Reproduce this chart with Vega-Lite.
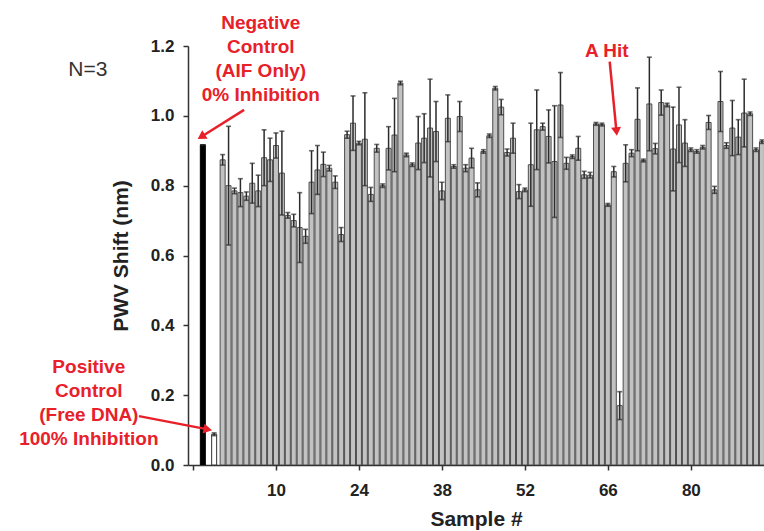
{
  "$schema": "https://vega.github.io/schema/vega-lite/v6.json",
  "autosize": {"type": "none"},
  "padding": {"left": 188, "top": 46, "right": 0, "bottom": 66},
  "width": 576,
  "height": 419,
  "background": "white",
  "config": {"view": {"stroke": null}, "font": "Liberation Sans"},
  "datasets": {
    "bars": [
      {"sample": -2.34, "value": 0.917, "err": 0, "kind": "negative"},
      {"sample": -0.43, "value": 0.088, "err": 0.004, "kind": "positive"},
      {"sample": 1, "value": 0.874, "err": 0.015, "kind": "sample"},
      {"sample": 2, "value": 0.8, "err": 0.17, "kind": "sample"},
      {"sample": 3, "value": 0.785, "err": 0.008, "kind": "sample"},
      {"sample": 4, "value": 0.78, "err": 0.04, "kind": "sample"},
      {"sample": 5, "value": 0.77, "err": 0.012, "kind": "sample"},
      {"sample": 6, "value": 0.807, "err": 0.057, "kind": "sample"},
      {"sample": 7, "value": 0.785, "err": 0.045, "kind": "sample"},
      {"sample": 8, "value": 0.88, "err": 0.08, "kind": "sample"},
      {"sample": 9, "value": 0.874, "err": 0.062, "kind": "sample"},
      {"sample": 10, "value": 0.915, "err": 0.036, "kind": "sample"},
      {"sample": 11, "value": 0.836, "err": 0.12, "kind": "sample"},
      {"sample": 12, "value": 0.715, "err": 0.008, "kind": "sample"},
      {"sample": 13, "value": 0.7, "err": 0.018, "kind": "sample"},
      {"sample": 14, "value": 0.68, "err": 0.1, "kind": "sample"},
      {"sample": 15, "value": 0.655, "err": 0.02, "kind": "sample"},
      {"sample": 16, "value": 0.81, "err": 0.09, "kind": "sample"},
      {"sample": 17, "value": 0.845, "err": 0.07, "kind": "sample"},
      {"sample": 18, "value": 0.861, "err": 0.035, "kind": "sample"},
      {"sample": 19, "value": 0.85, "err": 0.008, "kind": "sample"},
      {"sample": 20, "value": 0.81, "err": 0.018, "kind": "sample"},
      {"sample": 21, "value": 0.66, "err": 0.02, "kind": "sample"},
      {"sample": 22, "value": 0.946, "err": 0.01, "kind": "sample"},
      {"sample": 23, "value": 0.979, "err": 0.078, "kind": "sample"},
      {"sample": 24, "value": 0.922, "err": 0.005, "kind": "sample"},
      {"sample": 25, "value": 0.933, "err": 0.133, "kind": "sample"},
      {"sample": 26, "value": 0.775, "err": 0.02, "kind": "sample"},
      {"sample": 27, "value": 0.907, "err": 0.011, "kind": "sample"},
      {"sample": 28, "value": 0.8, "err": 0.005, "kind": "sample"},
      {"sample": 29, "value": 0.907, "err": 0.062, "kind": "sample"},
      {"sample": 30, "value": 0.945, "err": 0.105, "kind": "sample"},
      {"sample": 31, "value": 1.094, "err": 0.005, "kind": "sample"},
      {"sample": 32, "value": 0.888, "err": 0.005, "kind": "sample"},
      {"sample": 33, "value": 0.86, "err": 0.005, "kind": "sample"},
      {"sample": 34, "value": 0.922, "err": 0.076, "kind": "sample"},
      {"sample": 35, "value": 0.936, "err": 0.07, "kind": "sample"},
      {"sample": 36, "value": 0.965, "err": 0.14, "kind": "sample"},
      {"sample": 37, "value": 0.955, "err": 0.086, "kind": "sample"},
      {"sample": 38, "value": 0.785, "err": 0.025, "kind": "sample"},
      {"sample": 39, "value": 0.993, "err": 0.067, "kind": "sample"},
      {"sample": 40, "value": 0.855, "err": 0.005, "kind": "sample"},
      {"sample": 41, "value": 0.998, "err": 0.043, "kind": "sample"},
      {"sample": 42, "value": 0.85, "err": 0.01, "kind": "sample"},
      {"sample": 43, "value": 0.879, "err": 0.028, "kind": "sample"},
      {"sample": 44, "value": 0.788, "err": 0.02, "kind": "sample"},
      {"sample": 45, "value": 0.898, "err": 0.005, "kind": "sample"},
      {"sample": 46, "value": 0.943, "err": 0.005, "kind": "sample"},
      {"sample": 47, "value": 1.079, "err": 0.005, "kind": "sample"},
      {"sample": 48, "value": 1.025, "err": 0.022, "kind": "sample"},
      {"sample": 49, "value": 0.895, "err": 0.01, "kind": "sample"},
      {"sample": 50, "value": 0.936, "err": 0.043, "kind": "sample"},
      {"sample": 51, "value": 0.783, "err": 0.02, "kind": "sample"},
      {"sample": 52, "value": 0.788, "err": 0.005, "kind": "sample"},
      {"sample": 53, "value": 0.86, "err": 0.119, "kind": "sample"},
      {"sample": 54, "value": 0.96, "err": 0.114, "kind": "sample"},
      {"sample": 55, "value": 0.969, "err": 0.01, "kind": "sample"},
      {"sample": 56, "value": 0.941, "err": 0.076, "kind": "sample"},
      {"sample": 57, "value": 0.869, "err": 0.16, "kind": "sample"},
      {"sample": 58, "value": 1.031, "err": 0.093, "kind": "sample"},
      {"sample": 59, "value": 0.864, "err": 0.017, "kind": "sample"},
      {"sample": 60, "value": 0.883, "err": 0.005, "kind": "sample"},
      {"sample": 61, "value": 0.907, "err": 0.034, "kind": "sample"},
      {"sample": 62, "value": 0.831, "err": 0.01, "kind": "sample"},
      {"sample": 63, "value": 0.83, "err": 0.008, "kind": "sample"},
      {"sample": 64, "value": 0.977, "err": 0.004, "kind": "sample"},
      {"sample": 65, "value": 0.975, "err": 0.004, "kind": "sample"},
      {"sample": 66, "value": 0.745, "err": 0.004, "kind": "sample"},
      {"sample": 67, "value": 0.84, "err": 0.015, "kind": "sample"},
      {"sample": 68, "value": 0.17, "err": 0.04, "kind": "sample"},
      {"sample": 69, "value": 0.864, "err": 0.053, "kind": "sample"},
      {"sample": 70, "value": 0.893, "err": 0.01, "kind": "sample"},
      {"sample": 71, "value": 0.99, "err": 0.09, "kind": "sample"},
      {"sample": 72, "value": 0.872, "err": 0.004, "kind": "sample"},
      {"sample": 73, "value": 1.034, "err": 0.134, "kind": "sample"},
      {"sample": 74, "value": 0.906, "err": 0.015, "kind": "sample"},
      {"sample": 75, "value": 1.038, "err": 0.036, "kind": "sample"},
      {"sample": 76, "value": 1.031, "err": 0.005, "kind": "sample"},
      {"sample": 77, "value": 0.905, "err": 0.12, "kind": "sample"},
      {"sample": 78, "value": 0.974, "err": 0.108, "kind": "sample"},
      {"sample": 79, "value": 0.922, "err": 0.067, "kind": "sample"},
      {"sample": 80, "value": 0.903, "err": 0.005, "kind": "sample"},
      {"sample": 81, "value": 0.898, "err": 0.005, "kind": "sample"},
      {"sample": 82, "value": 0.91, "err": 0.005, "kind": "sample"},
      {"sample": 83, "value": 0.981, "err": 0.02, "kind": "sample"},
      {"sample": 84, "value": 0.788, "err": 0.01, "kind": "sample"},
      {"sample": 85, "value": 1.041, "err": 0.086, "kind": "sample"},
      {"sample": 86, "value": 0.915, "err": 0.008, "kind": "sample"},
      {"sample": 87, "value": 0.965, "err": 0.079, "kind": "sample"},
      {"sample": 88, "value": 0.939, "err": 0.05, "kind": "sample"},
      {"sample": 89, "value": 1.008, "err": 0.097, "kind": "sample"},
      {"sample": 90, "value": 1.006, "err": 0.005, "kind": "sample"},
      {"sample": 91, "value": 0.903, "err": 0.005, "kind": "sample"},
      {"sample": 92, "value": 0.926, "err": 0.005, "kind": "sample"}
    ],
    "arrows": [
      {"x": 4.62, "y": 1.017, "x2": -2.6, "y2": 0.94, "angle": 237.5},
      {"x": 66.31, "y": 1.155, "x2": 67.45, "y2": 0.955, "angle": 174.5},
      {"x": -13.12, "y": 0.14, "x2": -1.5, "y2": 0.102, "angle": 101}
    ],
    "notes": [
      {"x": 7.44, "y": 1.266, "label": "Negative\nControl\n(AIF Only)\n0% Inhibition"},
      {"x": 65.82, "y": 1.186, "label": "A Hit"},
      {"x": -21.58, "y": 0.281, "label": "Positive\nControl\n(Free DNA)\n100% Inhibition"}
    ],
    "counts": [
      {"x": -21.74, "y": 1.132, "label": "N=3"}
    ]
  },
  "layer": [
    {
      "data": {"name": "bars"},
      "mark": {"type": "bar", "size": 5, "strokeWidth": 1, "clip": true},
      "encoding": {
        "x": {
          "field": "sample", "type": "quantitative",
          "scale": {"domain": [-4, 91.5], "nice": false, "zero": false},
          "axis": {
            "title": "Sample #", "values": [-4, 10, 24, 38, 52, 66, 80],
            "labelExpr": "datum.value < 0 ? '' : datum.label",
            "grid": false, "domainColor": "#333333", "domainWidth": 1.5,
            "tickColor": "#333333", "tickWidth": 1.5, "tickSize": 5,
            "labelFont": "Liberation Sans", "labelFontSize": 17, "labelFontWeight": "bold",
            "labelColor": "#222222", "labelPadding": 12, "labelFlush": false,
            "titleFont": "Liberation Sans", "titleFontSize": 21, "titleFontWeight": "bold",
            "titleColor": "#222222", "titlePadding": 10
          }
        },
        "y": {
          "field": "value", "type": "quantitative",
          "scale": {"domain": [0, 1.2], "nice": false},
          "axis": {
            "title": "PWV Shift (nm)", "values": [0, 0.2, 0.4, 0.6, 0.8, 1.0, 1.2],
            "format": ".1f", "grid": false, "domainColor": "#333333", "domainWidth": 1.5,
            "tickColor": "#333333", "tickWidth": 1.5, "tickSize": 5,
            "labelFont": "Liberation Sans", "labelFontSize": 17, "labelFontWeight": "bold",
            "labelColor": "#222222", "labelPadding": 9, "labelFlush": false,
            "titleFont": "Liberation Sans", "titleFontSize": 21, "titleFontWeight": "bold",
            "titleColor": "#222222", "titlePadding": 19
          }
        },
        "fill": {
          "field": "kind", "type": "nominal",
          "scale": {"domain": ["negative", "positive", "sample"], "range": ["#000000", "#ffffff", "#c2c2c2"]},
          "legend": null
        },
        "stroke": {
          "field": "kind", "type": "nominal",
          "scale": {"domain": ["negative", "positive", "sample"], "range": ["#000000", "#333333", "#4d4d4d"]},
          "legend": null
        }
      }
    },
    {
      "data": {"name": "bars"},
      "mark": {
        "type": "errorbar",
        "ticks": {"size": 5, "thickness": 1.6, "color": "#2b2b2b"},
        "rule": {"strokeWidth": 1.5, "color": "#2b2b2b"}
      },
      "encoding": {
        "x": {"field": "sample", "type": "quantitative", "title": "Sample #"},
        "y": {"field": "value", "type": "quantitative", "title": "PWV Shift (nm)"},
        "yError": {"field": "err"}
      }
    },
    {
      "data": {"name": "arrows"},
      "mark": {"type": "rule", "color": "#e8202a", "strokeWidth": 2.5},
      "encoding": {
        "x": {"field": "x", "type": "quantitative", "title": "Sample #"},
        "y": {"field": "y", "type": "quantitative", "title": "PWV Shift (nm)"},
        "x2": {"field": "x2"},
        "y2": {"field": "y2"}
      }
    },
    {
      "data": {"name": "arrows"},
      "mark": {"type": "point", "shape": "triangle-up", "filled": true, "color": "#e8202a", "size": 100, "opacity": 1},
      "encoding": {
        "x": {"field": "x2", "type": "quantitative", "title": "Sample #"},
        "y": {"field": "y2", "type": "quantitative", "title": "PWV Shift (nm)"},
        "angle": {"field": "angle", "type": "quantitative", "scale": null}
      }
    },
    {
      "data": {"name": "notes"},
      "mark": {"type": "text", "align": "center", "baseline": "middle", "lineBreak": "\n", "lineHeight": 24, "font": "Liberation Sans", "fontSize": 19, "fontWeight": "bold", "color": "#e8202a"},
      "encoding": {
        "x": {"field": "x", "type": "quantitative", "title": "Sample #"},
        "y": {"field": "y", "type": "quantitative", "title": "PWV Shift (nm)"},
        "text": {"field": "label"}
      }
    },
    {
      "data": {"name": "counts"},
      "mark": {"type": "text", "align": "center", "baseline": "middle", "font": "Liberation Sans", "fontSize": 21, "color": "#333333"},
      "encoding": {
        "x": {"field": "x", "type": "quantitative", "title": "Sample #"},
        "y": {"field": "y", "type": "quantitative", "title": "PWV Shift (nm)"},
        "text": {"field": "label"}
      }
    }
  ]
}
